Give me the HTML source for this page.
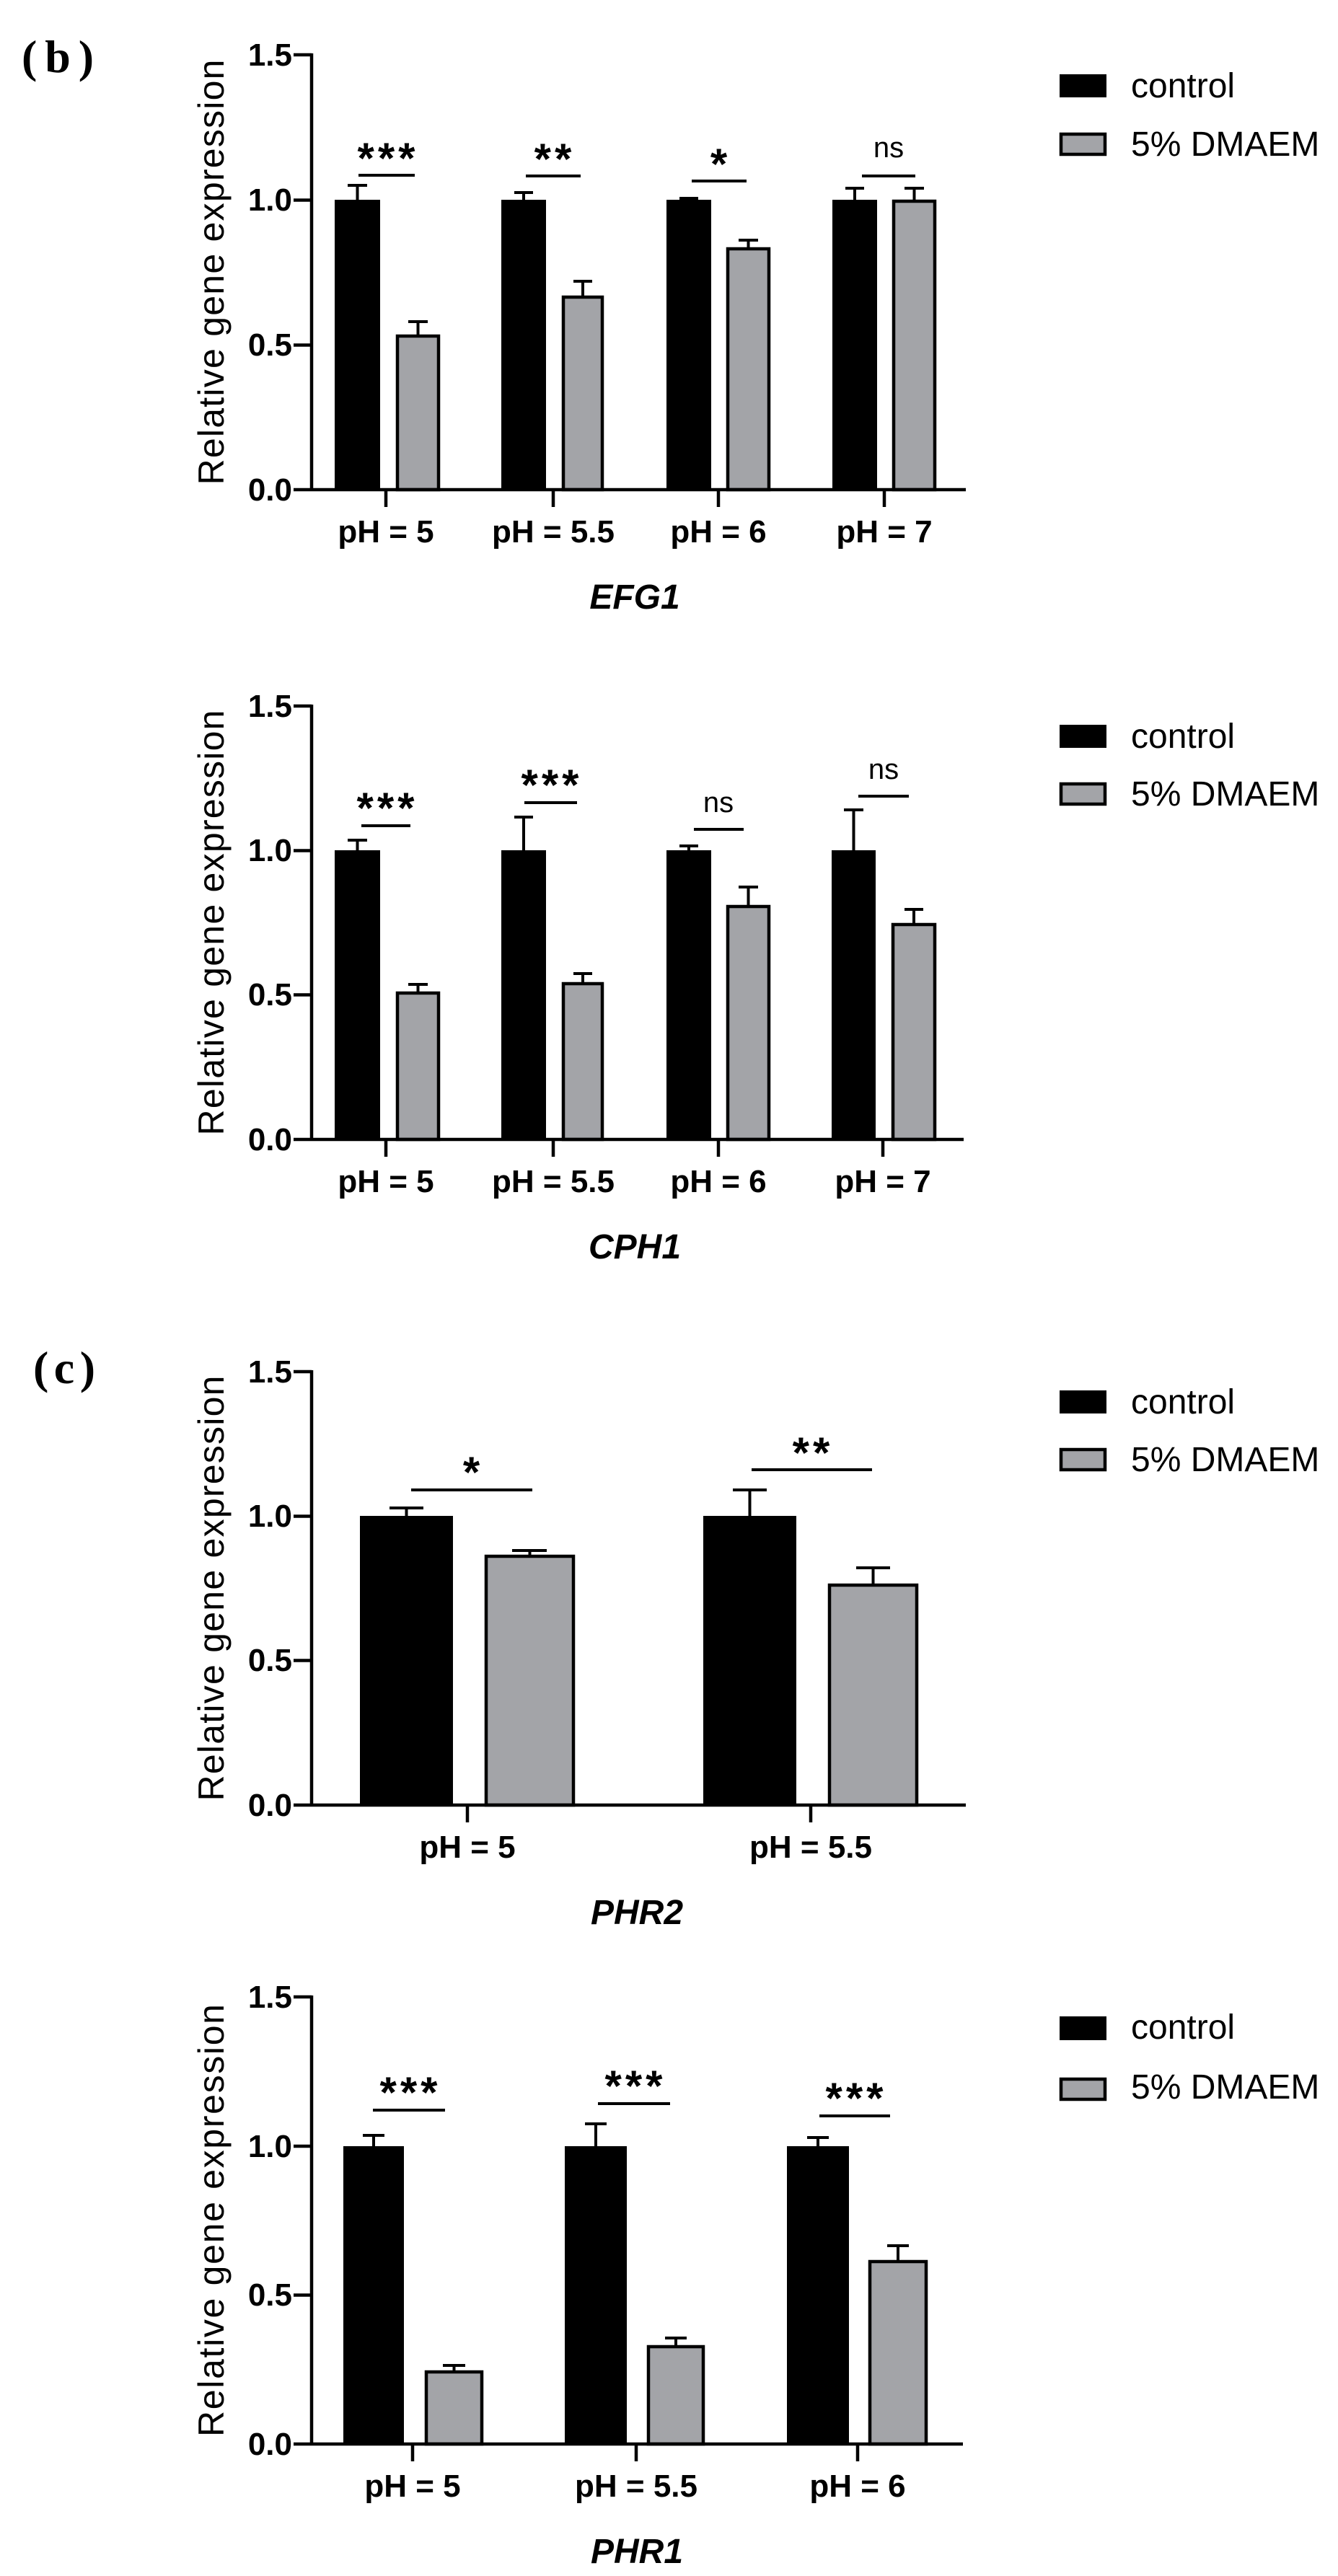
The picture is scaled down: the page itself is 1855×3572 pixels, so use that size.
<!DOCTYPE html>
<html><head><meta charset="utf-8"><style>
html,body{margin:0;padding:0;background:#fff;}
svg{display:block;}
text{font-family:"Liberation Sans",Arial,sans-serif;}
.tl{font-size:44px;font-weight:bold;text-anchor:end;}
.xl{font-size:44px;font-weight:bold;text-anchor:middle;}
.gt{font-size:48px;font-weight:bold;font-style:italic;text-anchor:middle;}
.yl{font-size:50px;text-anchor:middle;}
.lg{font-size:48px;}
.st{font-size:60px;font-weight:bold;text-anchor:middle;letter-spacing:5px;}
.ns{font-size:40px;text-anchor:middle;}
.pl{font-family:"Liberation Serif",serif;font-size:64px;font-weight:bold;}
.ax{stroke:#000;stroke-width:4.5;fill:none;}
.eb{stroke:#000;stroke-width:4;fill:none;}
.c{fill:#000;}
.g{fill:#a3a4a8;stroke:#000;stroke-width:4.5;}
</style></head><body>
<svg width="1855" height="3572" viewBox="0 0 1855 3572" xmlns="http://www.w3.org/2000/svg">
<rect width="1855" height="3572" fill="#fff"/>
<text class="pl" x="30" y="100" textLength="100">(b)</text>
<text class="pl" x="46" y="1918" textLength="86">(c)</text>

<g>
<rect class="c" x="464" y="277" width="63" height="402"/>
<path class="eb" d="M495.5 277V257M482 257H509"/>
<rect class="g" x="551" y="466" width="57" height="213"/>
<path class="eb" d="M579.5 466V446M566 446H593"/>
<rect class="c" x="695" y="277" width="62" height="402"/>
<path class="eb" d="M726 277V267M713 267H739"/>
<rect class="g" x="781" y="412" width="54" height="267"/>
<path class="eb" d="M808 412V390M795 390H821"/>
<rect class="c" x="924" y="277" width="62" height="402"/>
<path class="eb" d="M955 277V275M942 275H968"/>
<rect class="g" x="1009" y="345" width="57" height="334"/>
<path class="eb" d="M1037.5 345V333M1024 333H1051"/>
<rect class="c" x="1154" y="277" width="62" height="402"/>
<path class="eb" d="M1185 277V261M1172 261H1198"/>
<rect class="g" x="1239" y="279" width="57" height="400"/>
<path class="eb" d="M1267.5 279V261M1254 261H1281"/>
<path class="eb" d="M497 243H575M729 244H805M959 251H1035M1195 244H1269"/>
<text class="st" x="538" y="240">***</text>
<text class="st" x="769" y="241">**</text>
<text class="st" x="999" y="248">*</text>
<text class="ns" x="1232" y="218">ns</text>
<path class="ax" d="M432 74V681M407 679H1339M407 76H432M407 277.5H432M407 478.5H432M535 679V703M767 679V703M996 679V703M1226 679V703"/>
<text class="tl" x="405" y="91">1.5</text>
<text class="tl" x="405" y="292">1.0</text>
<text class="tl" x="405" y="493">0.5</text>
<text class="tl" x="405" y="694">0.0</text>
<text class="yl" transform="translate(310,377.5) rotate(-90)" textLength="590">Relative gene expression</text>
<text class="xl" x="535" y="752">pH = 5</text>
<text class="xl" x="767" y="752">pH = 5.5</text>
<text class="xl" x="996" y="752">pH = 6</text>
<text class="xl" x="1226" y="752">pH = 7</text>
<text class="gt" x="880" y="844">EFG1</text>
<rect class="c" x="1469" y="103" width="65" height="32"/>
<rect x="1471" y="186" width="61" height="28" fill="#a3a4a8" stroke="#000" stroke-width="4.5"/>
<text class="lg" x="1568" y="135">control</text>
<text class="lg" x="1568" y="216">5% DMAEM</text>
</g>

<g>
<rect class="c" x="464" y="1179" width="63" height="401"/>
<path class="eb" d="M495.5 1179V1165M482 1165H509"/>
<rect class="g" x="551" y="1377" width="57" height="203"/>
<path class="eb" d="M579.5 1377V1365M566 1365H593"/>
<rect class="c" x="695" y="1179" width="62" height="401"/>
<path class="eb" d="M726 1179V1133M713 1133H739"/>
<rect class="g" x="781" y="1364" width="54" height="216"/>
<path class="eb" d="M808 1364V1350M795 1350H821"/>
<rect class="c" x="924" y="1179" width="62" height="401"/>
<path class="eb" d="M955 1179V1173M942 1173H968"/>
<rect class="g" x="1009" y="1257" width="57" height="323"/>
<path class="eb" d="M1037.5 1257V1230M1024 1230H1051"/>
<rect class="c" x="1153" y="1179" width="61" height="401"/>
<path class="eb" d="M1183.5 1179V1123M1170 1123H1197"/>
<rect class="g" x="1238" y="1282" width="58" height="298"/>
<path class="eb" d="M1267 1282V1261M1254 1261H1280"/>
<path class="eb" d="M501 1145H569M727 1113H800M962 1150H1031M1190 1104H1260"/>
<text class="st" x="537" y="1141">***</text>
<text class="st" x="765" y="1109">***</text>
<text class="ns" x="996" y="1126">ns</text>
<text class="ns" x="1225" y="1080">ns</text>
<path class="ax" d="M432 977V1582M407 1580H1336M407 979H432M407 1179.5H432M407 1379.5H432M535 1580V1604M767 1580V1604M996 1580V1604M1224 1580V1604"/>
<text class="tl" x="405" y="994">1.5</text>
<text class="tl" x="405" y="1194">1.0</text>
<text class="tl" x="405" y="1394">0.5</text>
<text class="tl" x="405" y="1595">0.0</text>
<text class="yl" transform="translate(310,1279.5) rotate(-90)" textLength="590">Relative gene expression</text>
<text class="xl" x="535" y="1653">pH = 5</text>
<text class="xl" x="767" y="1653">pH = 5.5</text>
<text class="xl" x="996" y="1653">pH = 6</text>
<text class="xl" x="1224" y="1653">pH = 7</text>
<text class="gt" x="880" y="1745">CPH1</text>
<rect class="c" x="1469" y="1005" width="65" height="32"/>
<rect x="1471" y="1087" width="61" height="28" fill="#a3a4a8" stroke="#000" stroke-width="4.5"/>
<text class="lg" x="1568" y="1037">control</text>
<text class="lg" x="1568" y="1117">5% DMAEM</text>
</g>

<g>
<rect class="c" x="499" y="2102" width="129" height="401"/>
<path class="eb" d="M563.5 2102V2091M540 2091H587"/>
<rect class="g" x="674" y="2158" width="121" height="345"/>
<path class="eb" d="M734.5 2158V2150M710 2150H758"/>
<rect class="c" x="975" y="2102" width="129" height="401"/>
<path class="eb" d="M1039.5 2102V2066M1016 2066H1063"/>
<rect class="g" x="1150" y="2198" width="121" height="305"/>
<path class="eb" d="M1210.5 2198V2174M1187 2174H1234"/>
<path class="eb" d="M570 2066H738M1042 2038H1209"/>
<text class="st" x="656" y="2062">*</text>
<text class="st" x="1127" y="2035">**</text>
<path class="ax" d="M432 1900V2505M407 2503H1339M407 1902H432M407 2102.5H432M407 2302.5H432M648 2503V2527M1124 2503V2527"/>
<text class="tl" x="405" y="1917">1.5</text>
<text class="tl" x="405" y="2117">1.0</text>
<text class="tl" x="405" y="2317">0.5</text>
<text class="tl" x="405" y="2518">0.0</text>
<text class="yl" transform="translate(310,2202.5) rotate(-90)" textLength="590">Relative gene expression</text>
<text class="xl" x="648" y="2576">pH = 5</text>
<text class="xl" x="1124" y="2576">pH = 5.5</text>
<text class="gt" x="883" y="2668">PHR2</text>
<rect class="c" x="1469" y="1928" width="65" height="32"/>
<rect x="1471" y="2010" width="61" height="28" fill="#a3a4a8" stroke="#000" stroke-width="4.5"/>
<text class="lg" x="1568" y="1960">control</text>
<text class="lg" x="1568" y="2040">5% DMAEM</text>
</g>

<g>
<rect class="c" x="476" y="2976" width="84" height="413"/>
<path class="eb" d="M518 2976V2961M503 2961H533"/>
<rect class="g" x="591" y="3289" width="77" height="100"/>
<path class="eb" d="M629.5 3289V3280M614 3280H645"/>
<rect class="c" x="783" y="2976" width="86" height="413"/>
<path class="eb" d="M826 2976V2945M811 2945H841"/>
<rect class="g" x="899" y="3254" width="76" height="135"/>
<path class="eb" d="M937 3254V3242M922 3242H952"/>
<rect class="c" x="1091" y="2976" width="86" height="413"/>
<path class="eb" d="M1134 2976V2964M1119 2964H1149"/>
<rect class="g" x="1206" y="3136" width="78" height="253"/>
<path class="eb" d="M1245 3136V3114M1230 3114H1260"/>
<path class="eb" d="M517 2926H617M829 2917H929M1136 2934H1234"/>
<text class="st" x="569" y="2922">***</text>
<text class="st" x="881" y="2913">***</text>
<text class="st" x="1187" y="2930">***</text>
<path class="ax" d="M432 2767V3391M407 3389H1335M407 2769H432M407 2976H432M407 3182.5H432M572 3389V3413M882 3389V3413M1189 3389V3413"/>
<text class="tl" x="405" y="2784">1.5</text>
<text class="tl" x="405" y="2991">1.0</text>
<text class="tl" x="405" y="3197">0.5</text>
<text class="tl" x="405" y="3404">0.0</text>
<text class="yl" transform="translate(310,3079) rotate(-90)" textLength="600">Relative gene expression</text>
<text class="xl" x="572" y="3462">pH = 5</text>
<text class="xl" x="882" y="3462">pH = 5.5</text>
<text class="xl" x="1189" y="3462">pH = 6</text>
<text class="gt" x="883" y="3554">PHR1</text>
<rect class="c" x="1469" y="2796" width="65" height="33"/>
<rect x="1471" y="2883" width="61" height="28" fill="#a3a4a8" stroke="#000" stroke-width="4.5"/>
<text class="lg" x="1568" y="2827">control</text>
<text class="lg" x="1568" y="2910">5% DMAEM</text>
</g>
</svg>
</body></html>
